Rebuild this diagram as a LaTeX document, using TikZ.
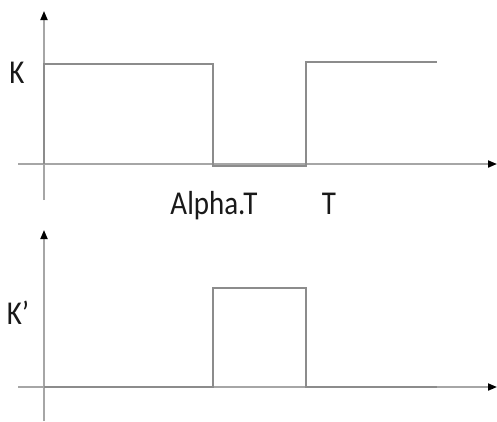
\documentclass[tikz,border=0pt]{standalone}
\usepackage{fontspec}
\setmainfont{Carlito}
\usetikzlibrary{arrows.meta}
\definecolor{axisgray}{HTML}{A6A6A6}
\definecolor{siggray}{HTML}{8C8C8C}
\newcommand{\tallText}[1]{\scalebox{1}[1.15]{#1}}
\tikzset{
  axisline/.style={draw=axisgray, line width=1.8pt, -{Triangle[length=9pt,width=7pt,black]}},
  signal/.style={draw=siggray, line width=2.6pt, line join=miter},
  lbl/.style={font=\fontsize{29}{34}\selectfont, text=black!90, inner sep=0pt, anchor=base}
}
\begin{document}
\begin{tikzpicture}[x=1pt, y=-1pt]
\useasboundingbox (0,0) rectangle (497,421);

% upper plot: axes
\coordinate (yA0) at (44,200);
\coordinate (yA1) at (44,11);
\coordinate (xA0) at (18,164);
\coordinate (xA1) at (497,164);
\draw[axisline] (yA0) -- (yA1);
\draw[axisline] (xA0) -- (xA1);

% upper plot: K(t)
\coordinate (a0) at (44,164);
\coordinate (a1) at (44,64);
\coordinate (a2) at (213,64);
\coordinate (a3) at (213,166);
\coordinate (a4) at (306,166);
\coordinate (a5) at (306,62);
\coordinate (a6) at (437,62);
\draw[signal] (a0) -- (a1) -- (a2) -- (a3) -- (a4) -- (a5) -- (a6);

% lower plot: axes
\coordinate (yB0) at (44,421);
\coordinate (yB1) at (44,230);
\coordinate (xB0) at (18,387);
\coordinate (xB1) at (497,387);
\draw[axisline] (yB0) -- (yB1);
\draw[axisline] (xB0) -- (xB1);

% lower plot: K'(t)
\coordinate (b0) at (44,387);
\coordinate (b1) at (213,387);
\coordinate (b2) at (213,288);
\coordinate (b3) at (306,288);
\coordinate (b4) at (306,387);
\coordinate (b5) at (437,387);
\draw[signal] (b0) -- (b1) -- (b2) -- (b3) -- (b4) -- (b5);

% labels
\node[lbl] (kLabel) at (17,83) {\tallText{K}};
\node[lbl] (kpLabel) at (18,324) {\tallText{K’}};
\node[lbl] (alphaT) at (214,214) {\tallText{Alpha.T}};
\node[lbl] (tLabel) at (329,214) {\tallText{T}};
\end{tikzpicture}
\end{document}
